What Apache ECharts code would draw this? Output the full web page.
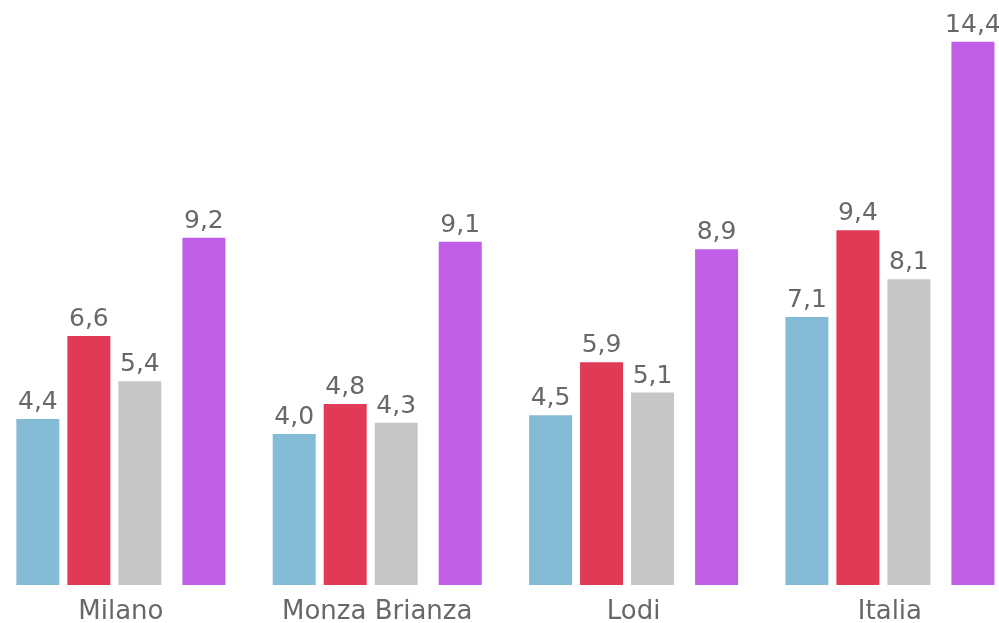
<!DOCTYPE html>
<html>
<head>
<meta charset="utf-8">
<script src="https://cdn.jsdelivr.net/npm/echarts@6/dist/echarts.min.js"></script>
<style>
html,body{margin:0;padding:0;background:#fff;}
#c{width:999px;height:623px;}
</style>
</head>
<body>
<div id="c"></div>
<script>
const categories = ['Milano', 'Monza Brianza', 'Lodi', 'Italia'];
const seriesA = [4.4, 4.0, 4.5, 7.1];
const seriesB = [6.6, 4.8, 5.9, 9.4];
const seriesC = [5.4, 4.3, 5.1, 8.1];
const seriesD = [9.2, 9.1, 8.9, 14.4];
const gapSeries = ['-', '-', '-', '-'];

const colors = ['#84BBD6', '#E03A57', '#C6C6C6', '#C15EE8'];
const FONT = '"DejaVu Sans", "Open Sans", sans-serif';
const labelCfg = {
  show: true,
  position: 'top',
  distance: 4,
  color: '#686868',
  fontSize: 25,
  fontWeight: 'normal',
  fontFamily: FONT,
  formatter: p => p.value.toFixed(1).replace('.', ',')
};
function bar(name, data, color) {
  return {
    name: name, type: 'bar', data: data, barWidth: 43, barGap: '18.6%',
    itemStyle: { color: color }, label: labelCfg, silent: true
  };
}
const chart = echarts.init(document.getElementById('c'), null, { renderer: 'canvas' });
chart.setOption({
  animation: false,
  grid: { left: -7.3, width: 1025.4, top: 19, bottom: 38, containLabel: false, outerBoundsMode: 'none' },
  xAxis: {
    type: 'category', data: categories,
    axisLine: { show: false }, axisTick: { show: false },
    axisLabel: { color: '#686868', fontSize: 26, fontWeight: 'normal', fontFamily: FONT, margin: 14 }
  },
  yAxis: {
    type: 'value', min: 0, max: 15, show: false,
    splitLine: { show: false }
  },
  series: [
    bar('A', seriesA, colors[0]),
    bar('B', seriesB, colors[1]),
    bar('C', seriesC, colors[2]),
    { name: 'gap', type: 'bar', data: gapSeries, barWidth: 11, barGap: '18.6%', silent: true, itemStyle: { color: 'transparent' } },
    bar('D', seriesD, colors[3])
  ]
});
</script>
</body>
</html>
